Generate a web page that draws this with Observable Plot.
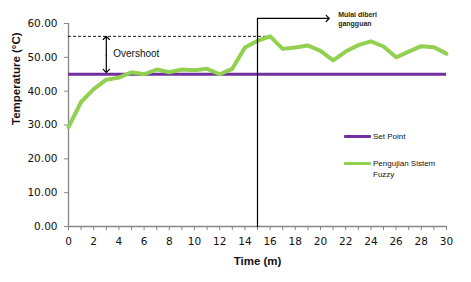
<!DOCTYPE html>
<html>
<head>
<meta charset="utf-8">
<script src="https://cdn.jsdelivr.net/npm/d3@7"></script>
<script src="https://cdn.jsdelivr.net/npm/@observablehq/plot@0.6"></script>
<style>
  html, body { margin: 0; padding: 0; background: #fff; }
  #chart { position: relative; width: 471px; height: 282px; }
  .legend { position: absolute; left: 0; top: 0; width: 471px; height: 282px; pointer-events: none;
            font-family: "Liberation Sans", Arial, sans-serif; font-size: 8px; color: #111; }
  .legend .item { position: absolute; display: flex; align-items: flex-start; white-space: nowrap; }
  .legend .swatch { width: 27px; height: 3px; margin-right: 2px; border-radius: 1px; }
</style>
</head>
<body>
<div id="chart"></div>
<script>
// Time in minutes and the measured temperature of the fuzzy controller test
const time = d3.range(0, 31);
const temperature = [
  29.4, 36.8, 40.6, 43.4, 44.0, 45.6, 45.0, 46.4, 45.6, 46.4,
  46.2, 46.6, 45.0, 46.6, 52.9, 54.9, 56.2, 52.5, 52.9, 53.5,
  51.9, 49.1, 51.7, 53.6, 54.7, 53.2, 50.0, 51.7, 53.3, 53.0, 51.1
];
const setPoint = 45;
const peakTime = 16;
const peakTemp = 56.2;
const disturbanceTime = 15;

const seriesNames = ["Set Point", "Pengujian Sistem Fuzzy"];
const seriesColors = ["#7030A0", "#92D050"];
const yTicks = [0, 10, 20, 30, 40, 50, 60];

const data = time.map((t, i) => ({time: t, temp: temperature[i]}));

const axisGray = "#868686";

const plot = Plot.plot({
  width: 471,
  height: 282,
  marginLeft: 68,
  marginRight: 25,
  marginTop: 23,
  marginBottom: 56,
  style: {fontFamily: "DejaVu Sans, Verdana, sans-serif", fontSize: "10.5px", color: "#111", background: "#fff"},
  x: {domain: [0, 30]},
  y: {domain: [0, 60]},
  marks: [
    Plot.axisY({ticks: yTicks, tickFormat: d3.format(".2f"), tickSize: 4, tickPadding: 7, stroke: axisGray, fill: "#111", label: null}),
    Plot.axisX({ticks: time, tickFormat: d => d % 2 ? "" : d, tickSize: 4, tickPadding: 7, stroke: axisGray, fill: "#111", label: null}),
    Plot.ruleX([0], {stroke: axisGray, strokeWidth: 1.3}),
    Plot.ruleY([0], {stroke: axisGray, strokeWidth: 1.3}),

    // overshoot reference
    Plot.ruleY([peakTemp], {x1: 0, x2: peakTime, stroke: "#000", strokeWidth: 0.9, strokeDasharray: "3,2"}),
    Plot.arrow([{a: (setPoint + peakTemp) / 2, b: peakTemp}, {a: (setPoint + peakTemp) / 2, b: setPoint + 0.5}], {
      x1: () => 3, x2: () => 3, y1: "a", y2: "b", stroke: "#000", strokeWidth: 1.2, headLength: 5.5, headAngle: 90
    }),
    Plot.text(["Overshoot"], {x: 3.55, y: 50.9, textAnchor: "start", fontFamily: "Liberation Sans, Arial, sans-serif", fontSize: 10, fill: "#111"}),

    // series
    Plot.ruleY([setPoint], {x1: 0, x2: 30, stroke: seriesColors[0], strokeWidth: 3}),
    Plot.line(data, {x: "time", y: "temp", stroke: seriesColors[1], strokeWidth: 4, strokeLinejoin: "round"}),

    // disturbance marker
    Plot.line([[disturbanceTime, 0], [disturbanceTime, 61.5]], {stroke: "#000", strokeWidth: 1.2}),
    Plot.arrow([{x1: disturbanceTime, x2: 20.7, y: 61.5}], {x1: "x1", x2: "x2", y1: "y", y2: "y", stroke: "#000", strokeWidth: 1.2, headLength: 5.5, headAngle: 90}),
    Plot.text(["Mulai diberi\ngangguan"], {x: 21.4, y: 61.4, textAnchor: "start", lineAnchor: "middle", lineHeight: 1.3, fontFamily: "Liberation Sans, Arial, sans-serif", fontSize: 7, fontWeight: "bold", fill: "#2a1f12"}),

    // axis titles
    Plot.text(["Temperature (°C)"], {frameAnchor: "left", dx: -52, rotate: -90, fontFamily: "Liberation Sans, Arial, sans-serif", fontSize: 11.5, fontWeight: "bold", fill: "#111"}),
    Plot.text(["Time (m)"], {frameAnchor: "bottom", dy: 38, fontFamily: "Liberation Sans, Arial, sans-serif", fontSize: 11.5, fontWeight: "bold", fill: "#111"})
  ]
});

const chart = document.getElementById("chart");
chart.appendChild(plot);

// legend
const legend = document.createElement("div");
legend.className = "legend";
const legendTops = [131, 158];
seriesNames.forEach((name, i) => {
  const item = document.createElement("div");
  item.className = "item";
  item.style.left = "344px";
  item.style.top = legendTops[i] + "px";
  const sw = document.createElement("div");
  sw.className = "swatch";
  sw.style.background = seriesColors[i];
  sw.style.marginTop = "4px";
  const label = document.createElement("div");
  label.innerHTML = name === "Pengujian Sistem Fuzzy" ? "Pengujian Sistem<br>Fuzzy" : name;
  label.style.lineHeight = "11px";
  item.appendChild(sw);
  item.appendChild(label);
  legend.appendChild(item);
});
chart.appendChild(legend);
</script>
</body>
</html>
